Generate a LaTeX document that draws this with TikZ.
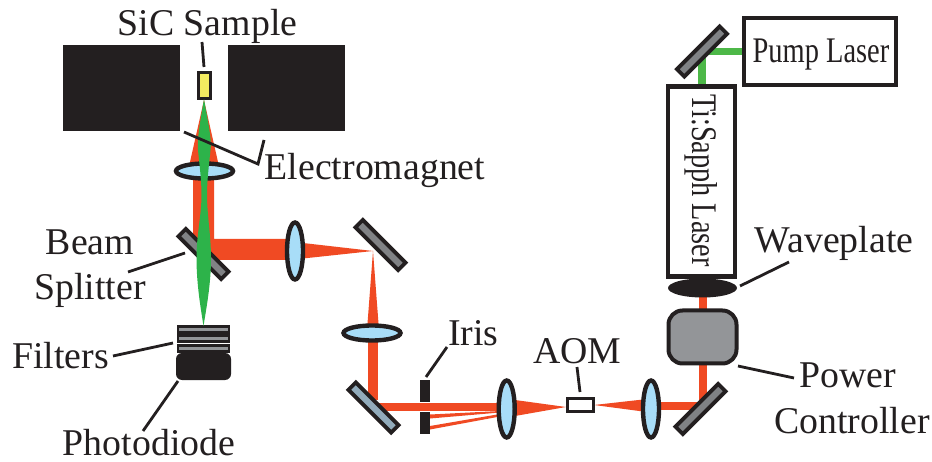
\documentclass[tikz,border=0pt]{standalone}
\usepackage{fontspec}
\setmainfont{Liberation Serif}
\usetikzlibrary{shapes.geometric}
\definecolor{ink}{HTML}{231F20}
\definecolor{redbeam}{HTML}{F04A23}
\definecolor{greenbeam}{HTML}{2DB34A}
\definecolor{greenpump}{HTML}{4DB848}
\definecolor{lensblue}{HTML}{A8DDF8}
\definecolor{greymirror}{HTML}{808285}
\definecolor{bluemirror}{HTML}{92ABBB}
\definecolor{greybox}{HTML}{939598}
\definecolor{sampleyellow}{HTML}{F3EB60}
\tikzset{
  lbl/.style={font=\fontsize{37.8}{37.8}\selectfont, text=ink, anchor=base, inner sep=0pt},
  leader/.style={draw=ink, line width=2.8pt},
  redfill/.style={fill=redbeam, draw=none},
  greenfill/.style={fill=greenbeam, draw=none},
  mirrorbar/.style={rectangle, draw=ink, line width=3.8pt, fill=greymirror, minimum width=60.5pt, minimum height=10.5pt, inner sep=0pt},
  lensv/.style={ellipse, draw=ink, line width=4.4pt, fill=lensblue, minimum width=16pt, minimum height=57pt, inner sep=0pt},
  lensh/.style={ellipse, draw=ink, line width=4.4pt, fill=lensblue, minimum width=57pt, minimum height=15pt, inner sep=0pt},
  magnet/.style={rectangle, fill=ink, minimum width=117pt, minimum height=86pt, inner sep=0pt},
  filterbar/.style={rectangle, draw=ink, line width=2.8pt, fill=greybox, minimum width=51pt, minimum height=6.5pt, inner sep=0pt},
  irisbar/.style={rectangle, fill=ink, minimum width=10pt, inner sep=0pt},
  laserbox/.style={rectangle, draw=ink, line width=4.6pt, fill=white, inner sep=0pt}
}
\begin{document}
\begin{tikzpicture}[x=1pt,y=-1pt]
\useasboundingbox (0,0) rectangle (932,462);

% beams under the optics
\fill[redfill] (204,100) -- (218,162) -- (214,178) -- (214,239) -- (295,239) -- (295,260) -- (216,260) -- (193,240) -- (193,178) -- (190,162) -- cycle;
\fill[redfill] (303,243) -- (373,251) -- (303,258.5) -- cycle;
\fill[redfill] (373,251) -- (379,330) -- (367,330) -- cycle;
\fill[redfill] (368,335) rectangle (378,400);
\fill[redfill] (372,403.3) rectangle (500,410.7);
\fill[redfill] (430,414.5) -- (500,411) -- (500,412.5) -- (430,418.5) -- cycle;
\fill[redfill] (430,426) -- (500,414) -- (500,416.5) -- (430,429.5) -- cycle;
\fill[redfill] (515,400) -- (566,407) -- (515,416) -- cycle;
\fill[redfill] (594,405) -- (643,399.5) -- (643,411.5) -- cycle;
\fill[redfill] (655,402.3) rectangle (700,410);
\fill[redfill] (699,290) rectangle (707,405);
\fill[greenpump] (700,48) rectangle (744,55);
\fill[greenpump] (698,48) rectangle (706,90);

% magnets and sample
\node[magnet] (magL) at (121.5,88) {};
\node[magnet] (magR) at (286.5,88) {};
\node[rectangle, draw=ink, line width=3pt, fill=sampleyellow, minimum width=12.5pt, minimum height=26pt, inner sep=0pt] (sample) at (204.5,86) {};

% optics
\node[lensh] (lensA) at (204.5,171) {};
\node[mirrorbar, rotate=-45] (splitter) at (203.5,254) {};
\node[lensv] (lensB) at (295,251) {};
\node[mirrorbar, rotate=-45] (mirrorB) at (380.5,245) {};
\node[lensh] (lensC) at (372,333) {};
\node[mirrorbar, rotate=-45, fill=bluemirror] (mirrorC) at (373.5,407.5) {};
\node[irisbar, minimum height=22pt] (irisT) at (425,391) {};
\node[irisbar, minimum height=22pt] (irisB) at (425,423) {};
\node[lensv] (lensD) at (506.7,409) {};
\node[rectangle, draw=ink, line width=3pt, fill=white, minimum width=26.5pt, minimum height=13.5pt, inner sep=0pt] (aom) at (580.5,405) {};
\node[lensv] (lensE) at (651,409) {};
\node[mirrorbar, rotate=45] (mirrorD) at (700.5,409) {};
\node[mirrorbar, rotate=45] (mirrorT) at (702,51.5) {};

% boxes on the right
\node[laserbox, minimum width=67pt, minimum height=190pt] (tisapph) at (701.5,181.5) {};
\node[rotate=-90, text=ink, inner sep=0pt] (tisapphtxt) at (701,180.5) {\scalebox{.785}[1]{\fontsize{36}{36}\selectfont Ti:Sapph Laser}};
\node[laserbox, minimum width=152pt, minimum height=67pt] (pump) at (820,51.5) {};
\node[text=ink, inner sep=0pt] (pumptxt) at (821,55) {\scalebox{.79}[1]{\fontsize{36}{36}\selectfont Pump Laser}};
\node[ellipse, fill=ink, minimum width=69pt, minimum height=19pt, inner sep=0pt] (waveplate) at (702.5,288) {};
\node[rectangle, rounded corners=14pt, draw=ink, line width=4pt, fill=greybox, minimum width=68pt, minimum height=53pt, inner sep=0pt] (power) at (702.5,337) {};

% filters and photodiode
\node[filterbar] (filterA) at (203.5,329.5) {};
\node[filterbar] (filterB) at (203.5,338.5) {};
\node[filterbar] (filterC) at (203.5,348.5) {};
\node[rectangle, rounded corners=6pt, fill=ink, minimum width=55pt, minimum height=27pt, inner sep=0pt] (diode) at (203.5,366.5) {};

% green probe beam above the optics
\fill[greenfill] (204,99) .. controls (208,122) and (212,140) .. (210.5,150)
  .. controls (209,165) and (207,180) .. (207,195)
  .. controls (207,215) and (211,235) .. (211,258)
  .. controls (211,285) and (206,310) .. (203.5,326)
  .. controls (201,310) and (196.5,285) .. (196.5,258)
  .. controls (196.5,235) and (201.5,215) .. (201.5,195)
  .. controls (201.5,180) and (199.5,165) .. (198,150)
  .. controls (197,140) and (200,122) .. (204,99) -- cycle;

% labels
\node[lbl] (tSiC) at (207.5,36) {SiC Sample};
\node[lbl] (tEm) at (375,180) {Electromagnet};
\node[lbl] (tBeam) at (90,255) {Beam};
\node[lbl] (tSplit) at (90,300) {Splitter};
\node[lbl] (tFilt) at (60.5,369) {Filters};
\node[lbl] (tPhoto) at (149,455) {Photodiode};
\node[lbl] (tIris) at (473.5,345) {Iris};
\node[lbl] (tAOM) at (577.5,363) {AOM};
\node[lbl] (tWave) at (834,253) {Waveplate};
\node[lbl] (tPower) at (847.5,387) {Power};
\node[lbl] (tCtrl) at (852,433) {Controller};

% leaders
\coordinate (lSa) at (202,42); \coordinate (lSb) at (204,67);
\coordinate (lEa) at (184,132); \coordinate (lEb) at (258,164); \coordinate (lEc) at (264,140);
\coordinate (lBa) at (128,272); \coordinate (lBb) at (185,253);
\coordinate (lFa) at (113,356); \coordinate (lFb) at (173,343);
\coordinate (lPa) at (143,431); \coordinate (lPb) at (178,381);
\coordinate (lIa) at (447,347); \coordinate (lIb) at (426,377);
\coordinate (lAa) at (577,367); \coordinate (lAb) at (580,392);
\coordinate (lWa) at (789,262); \coordinate (lWb) at (740,286);
\coordinate (lCa) at (794,378); \coordinate (lCb) at (738,366);
\draw[leader] (lSa) -- (lSb);
\draw[leader] (lEa) -- (lEb) -- (lEc);
\draw[leader] (lBa) -- (lBb);
\draw[leader] (lFa) -- (lFb);
\draw[leader] (lPa) -- (lPb);
\draw[leader] (lIa) -- (lIb);
\draw[leader] (lAa) -- (lAb);
\draw[leader] (lWa) -- (lWb);
\draw[leader] (lCa) -- (lCb);
\end{tikzpicture}
\end{document}
